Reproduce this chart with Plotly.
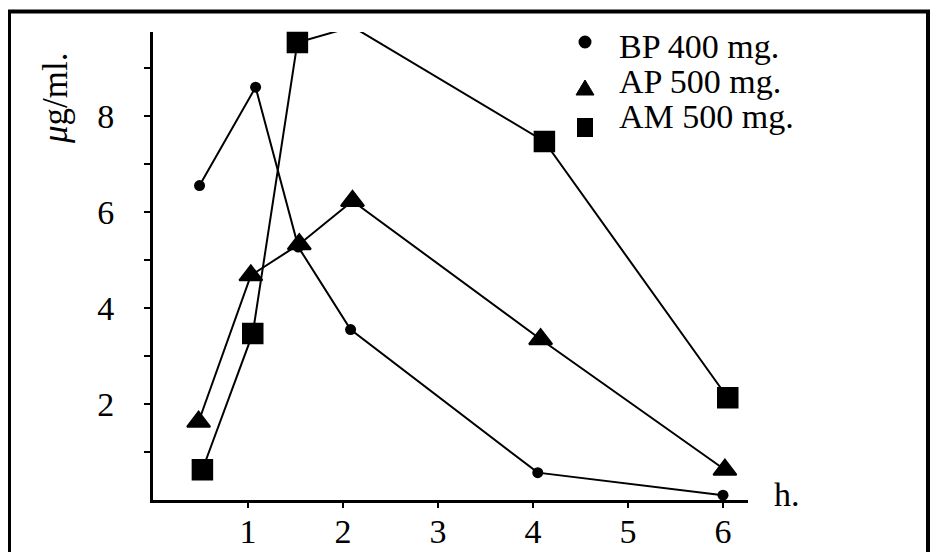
import plotly.graph_objects as go

# ---- data ----
bp_x = [0.49, 1.08, 1.53, 2.08, 4.05, 6.0]
bp_y = [6.55, 8.6, 5.27, 3.55, 0.57, 0.1]
ap_x = [0.48, 1.03, 1.54, 2.1, 4.08, 6.02]
ap_y = [1.63, 4.68, 5.33, 6.23, 3.35, 0.63]
am_x = [0.52, 1.05, 1.52, 2.1, 4.12, 6.05]
am_y = [0.63, 3.47, 9.53, 9.86, 7.47, 2.13]
series_names = ["BP 400 mg.", "AP 500 mg.", "AM 500 mg."]
x_ticks = [1, 2, 3, 4, 5, 6]
y_ticks = [1, 2, 3, 4, 5, 6, 7, 8, 9]
y_ticklabels = ["", "2", "", "4", "", "6", "", "8", ""]

# ---- layout geometry (target positions in page pixels) ----
OFF = 8            # html body margin
W = 943 - 2 * OFF
H = 576            # taller than the window: the bottom is cut off, as in the reference
PLOT_L, PLOT_R, PLOT_T, PLOT_B = 153, 748, 32, 500
X_UNIT, Y_UNIT = 95.0, 48.0

ML = PLOT_L - OFF
MR = W - (PLOT_R - OFF)
MT = PLOT_T - OFF
MB = H - (PLOT_B - OFF)
PW, PH = W - ML - MR, H - MT - MB
FONT = "Liberation Serif, Times New Roman, serif"
FS = 34


def px(xp):
    return (xp - OFF - ML) / PW


def py(yp):
    return (H - MB - (yp - OFF)) / PH


fig = go.Figure()
line = dict(color="black", width=2)
fig.add_trace(go.Scatter(x=bp_x, y=bp_y, mode="lines+markers", name=series_names[0],
                         line=line, marker=dict(symbol="circle", size=11, color="black"),
                         cliponaxis=False, showlegend=False))
fig.add_trace(go.Scatter(x=ap_x, y=ap_y, mode="lines+markers", name=series_names[1],
                         line=line, marker=dict(symbol="triangle-up", size=20, color="black",
                                                line=dict(color="black", width=2)),
                         cliponaxis=False, showlegend=False))
fig.add_trace(go.Scatter(x=am_x, y=am_y, mode="lines+markers", name=series_names[2],
                         line=line, marker=dict(symbol="square", size=20, color="black",
                                                line=dict(color="black", width=1.5)),
                         cliponaxis=False, showlegend=False))

frame = dict(color="black", width=4)
bottom = H + OFF
leg_text_x = 617
leg_rows_y = [46, 82, 116]
leg_sym_x = 585
shapes = [
    dict(type="line", xref="paper", yref="paper", x0=px(9), x1=px(9), y0=py(11.5), y1=py(bottom), line=frame),
    dict(type="line", xref="paper", yref="paper", x0=px(928), x1=px(928), y0=py(11.5), y1=py(bottom), line=frame),
    dict(type="line", xref="paper", yref="paper", x0=px(7), x1=px(930), y0=py(11.5), y1=py(11.5), line=frame),
    # legend symbols
    dict(type="circle", xref="paper", yref="paper",
         x0=px(leg_sym_x - 6.5), x1=px(leg_sym_x + 6.5), y0=py(35.5), y1=py(48.5),
         line=dict(color="black", width=0), fillcolor="black"),
    dict(type="path", xref="paper", yref="paper",
         path="M {} {} L {} {} L {} {} Z".format(px(leg_sym_x - 9), py(95), px(leg_sym_x + 9), py(95),
                                              px(leg_sym_x), py(80)),
         line=dict(color="black", width=1), fillcolor="black"),
    dict(type="rect", xref="paper", yref="paper",
         x0=px(leg_sym_x - 8), x1=px(leg_sym_x + 8), y0=py(118), y1=py(137),
         line=dict(color="black", width=0), fillcolor="black"),
]
annotations = [
    dict(text="<i>μ</i>g/ml.", xref="paper", yref="paper", x=px(55), y=py(98),
         showarrow=False, textangle=-90, font=dict(size=35, family=FONT),
         xanchor="center", yanchor="middle"),
    dict(text="h.", xref="paper", yref="paper", x=px(787), y=py(494),
         showarrow=False, font=dict(size=FS, family=FONT),
         xanchor="center", yanchor="middle"),
]
for name, yy in zip(series_names, leg_rows_y):
    annotations.append(dict(text=name, xref="paper", yref="paper", x=px(leg_text_x), y=py(yy),
                            showarrow=False, font=dict(size=FS, family=FONT),
                            xanchor="left", yanchor="middle"))

fig.update_layout(
    width=W, height=H,
    margin=dict(l=ML, r=MR, t=MT, b=MB, pad=0),
    paper_bgcolor="white", plot_bgcolor="white",
    font=dict(family=FONT, size=FS, color="black"),
    showlegend=False,
    xaxis=dict(range=[0, PW / X_UNIT], tickvals=x_ticks, ticktext=[str(v) for v in x_ticks],
               showgrid=False, zeroline=False, showline=True, linecolor="black", linewidth=3,
               ticks="outside", ticklen=5, tickwidth=2, tickcolor="black",
               ticklabelstandoff=-6, tickfont=dict(size=FS, family=FONT)),
    yaxis=dict(range=[0, PH / Y_UNIT], tickvals=y_ticks, ticktext=y_ticklabels,
               showgrid=False, zeroline=False, showline=True, linecolor="black", linewidth=3,
               ticks="outside", ticklen=6, tickwidth=2, tickcolor="black",
               ticklabelstandoff=23, tickfont=dict(size=FS, family=FONT)),
    annotations=annotations,
    shapes=shapes,
)

fig.write_html("out.html")
